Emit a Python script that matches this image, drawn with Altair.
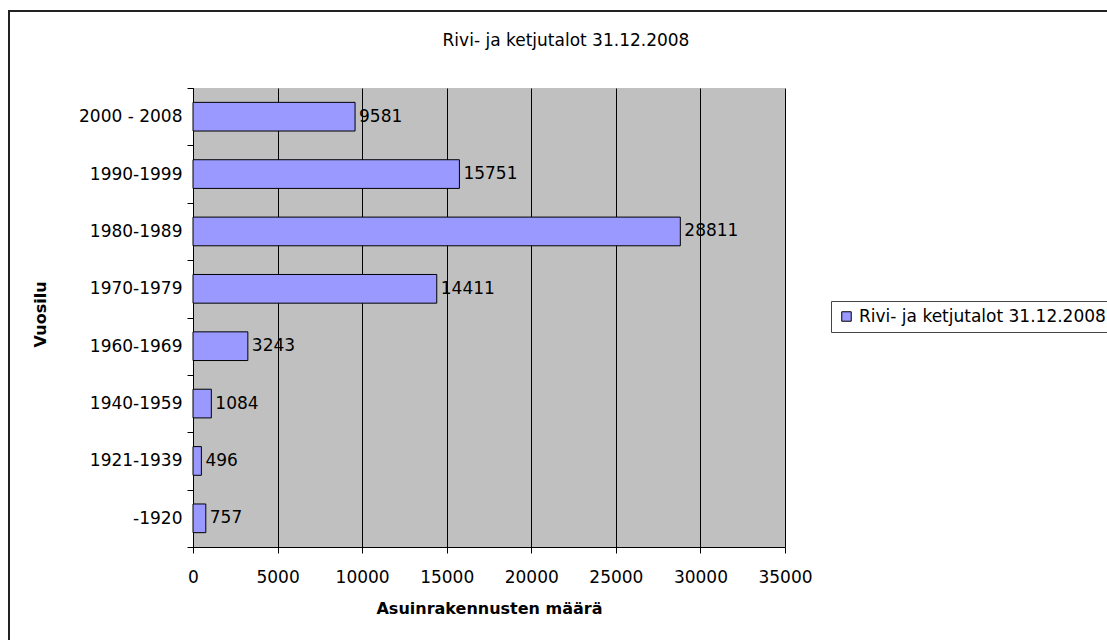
import altair as alt
import pandas as pd

categories = ["2000 - 2008", "1990-1999", "1980-1989", "1970-1979",
              "1960-1969", "1940-1959", "1921-1939", "-1920"]
values = [9581, 15751, 28811, 14411, 3243, 1084, 496, 757]
series_name = "Rivi- ja ketjutalot 31.12.2008"
x_ticks = [0, 5000, 10000, 15000, 20000, 25000, 30000, 35000]

FONT = "DejaVu Sans"
FS = 17

df = pd.DataFrame({"period": categories, "count": values, "series": series_name})

y_enc = alt.Y("period:N", sort=categories,
              scale=alt.Scale(paddingInner=0, paddingOuter=0),
              axis=alt.Axis(title="Vuosilu", tickBand="extent", tickSize=6,
                            tickColor="#000", domainColor="#000",
                            labelFontSize=FS, labelColor="#000", labelPadding=5,
                            labelFont=FONT, titleFont=FONT, titleFontSize=16,
                            titleFontWeight="bold", titleColor="#000",
                            titleX=-153, titleY=226, titleAngle=-90,
                            titleAlign="center", titleBaseline="middle",
                            grid=False))
x_enc = alt.X("count:Q",
              scale=alt.Scale(domain=[0, 35000], nice=False),
              axis=alt.Axis(title="Asuinrakennusten määrä", values=x_ticks, format="d",
                            tickSize=6, tickColor="#000", domainColor="#000",
                            labelFontSize=FS, labelColor="#000", labelPadding=16,
                            labelFlush=False, labelOverlap=False,
                            labelFont=FONT, titleFont=FONT, titleFontSize=16,
                            titleFontWeight="bold", titleColor="#000",
                            titleY=61, titleBaseline="middle",
                            grid=True, gridColor="#000", gridWidth=1))

bars = alt.Chart(df).mark_bar(
    height=alt.RelativeBandSize(0.5), stroke="#000", strokeWidth=1
).encode(
    x=x_enc, y=y_enc,
    color=alt.Color("series:N", scale=alt.Scale(range=["#9999FF"]),
                    legend=alt.Legend(title=None, orient="none", legendX=638, legendY=213,
                                      strokeColor="#444", fillColor="#fff", padding=7,
                                      symbolType="square", symbolSize=90,
                                      symbolStrokeColor="#000", symbolStrokeWidth=1,
                                      labelFontSize=FS, labelFont=FONT, labelColor="#000",
                                      labelLimit=0, cornerRadius=0))
)

labels = alt.Chart(df).mark_text(
    align="left", baseline="middle", dx=4, fontSize=FS, font=FONT, color="#000"
).encode(
    x="count:Q", y=alt.Y("period:N", sort=categories), text="count:Q"
)

one = pd.DataFrame({"t": [series_name]})
title = alt.Chart(one).mark_text(
    align="center", baseline="alphabetic", fontSize=FS, font=FONT, color="#000"
).encode(x=alt.value(373), y=alt.value(-42), text="t:N")

border = alt.Chart(one).mark_rect(
    fill="#fff", fillOpacity=0, stroke="#222", strokeWidth=2
).encode(x=alt.value(-184), y=alt.value(-77), x2=alt.value(1100), y2=alt.value(800))

chart = alt.layer(bars, labels, title, border).properties(
    width=592, height=459,
    autosize=alt.AutoSizeParams(type="none"),
    padding={"left": 193, "top": 88, "right": 322, "bottom": 93},
).configure(background="#fff").configure_view(fill="#C0C0C0", stroke=None)

chart.save("out.html", embed_options={"renderer": "svg", "actions": False})
